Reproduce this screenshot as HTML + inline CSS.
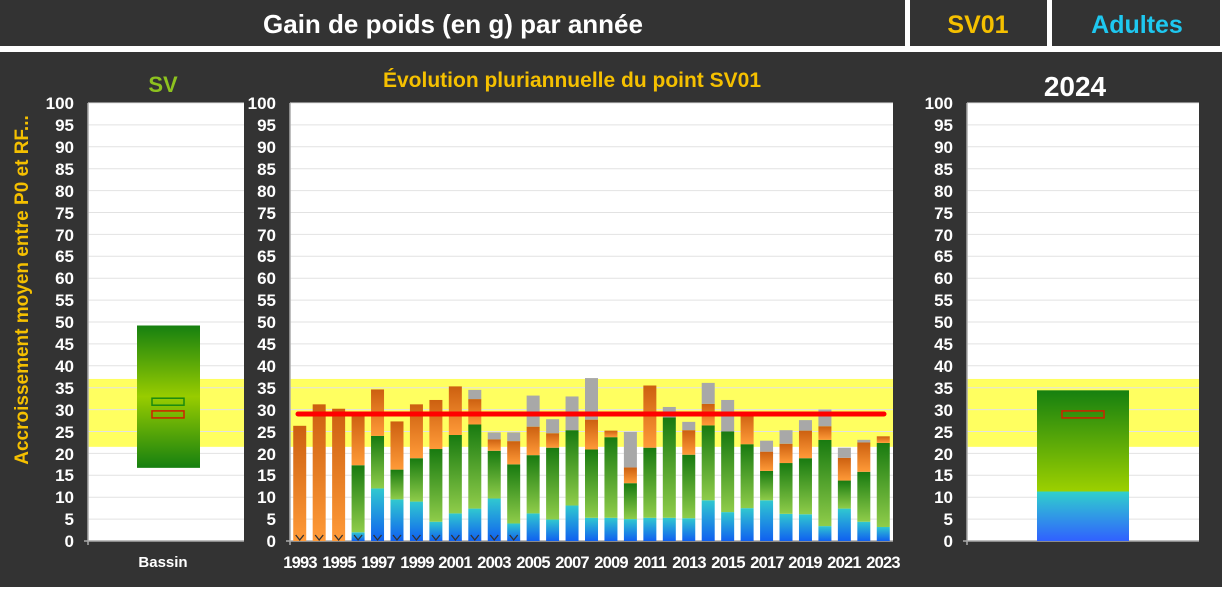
<!DOCTYPE html>
<html><head><meta charset="utf-8"><style>
html,body{margin:0;padding:0;background:#fff;}
body{width:1222px;height:587px;overflow:hidden;}
svg text{font-family:"Liberation Sans",Arial,sans-serif;font-weight:bold;}
</style></head><body>
<svg id="s" width="1222" height="587" viewBox="0 0 1222 587" xmlns="http://www.w3.org/2000/svg">
<defs>
<linearGradient id="gG" x1="0" y1="0" x2="0" y2="1"><stop offset="0" stop-color="#187a10"/><stop offset="1" stop-color="#8fcc4a"/></linearGradient>
<linearGradient id="gO" x1="0" y1="0" x2="0" y2="1"><stop offset="0" stop-color="#cc6010"/><stop offset="1" stop-color="#ff9a38"/></linearGradient>
<linearGradient id="gB" x1="0" y1="0" x2="0" y2="1"><stop offset="0" stop-color="#30c8d0"/><stop offset="1" stop-color="#1060f0"/></linearGradient>
<linearGradient id="gL" x1="0" y1="0" x2="0" y2="1"><stop offset="0" stop-color="#168010"/><stop offset="0.5" stop-color="#98cc00"/><stop offset="1" stop-color="#168010"/></linearGradient>
<linearGradient id="gR" x1="0" y1="0" x2="0" y2="1"><stop offset="0" stop-color="#168010"/><stop offset="1" stop-color="#9cd000"/></linearGradient>
<linearGradient id="gRB" x1="0" y1="0" x2="0" y2="1"><stop offset="0" stop-color="#30d0cc"/><stop offset="1" stop-color="#3060ff"/></linearGradient>
</defs>
<rect x="0" y="0" width="1222" height="587" fill="#ffffff"/>
<rect x="0" y="0" width="1222" height="46" fill="#333"/>
<rect x="905" y="0" width="5" height="46" fill="#fff"/>
<rect x="1047" y="0" width="5" height="46" fill="#fff"/>
<rect x="1220" y="0" width="2" height="46" fill="#fff"/>
<rect x="0" y="52" width="1222" height="535" fill="#333"/>
<text x="453" y="33" fill="#fff" font-size="26" text-anchor="middle">Gain de poids (en g) par année</text>
<text x="978" y="33" fill="#f5c000" font-size="25" text-anchor="middle">SV01</text>
<text x="1137" y="33" fill="#1ec8f0" font-size="25" text-anchor="middle">Adultes</text>
<text x="163" y="92" fill="#8dc21f" font-size="22" text-anchor="middle">SV</text>
<text x="572" y="87" fill="#f5c000" font-size="21" text-anchor="middle">Évolution pluriannuelle du point SV01</text>
<text x="1075" y="96" fill="#fff" font-size="28" text-anchor="middle">2024</text>
<text transform="translate(28,290) rotate(-90)" fill="#f5c000" font-size="19" text-anchor="middle">Accroissement  moyen entre P0 et RF...</text>
<rect x="88" y="103" width="156" height="438" fill="#fff"/>
<rect x="290" y="103" width="603" height="438" fill="#fff"/>
<rect x="967" y="103" width="232" height="438" fill="#fff"/>
<g id="grid"></g>
<g id="bars"></g>
<g fill="#fff" font-size="15">
<text x="163" y="567" text-anchor="middle">Bassin</text>
</g>
<g fill="#fff" font-size="17" text-anchor="end">
<text x="74" y="109">100</text><text x="74" y="131">95</text><text x="74" y="153">90</text><text x="74" y="175">85</text><text x="74" y="197">80</text><text x="74" y="219">75</text><text x="74" y="241">70</text><text x="74" y="262">65</text><text x="74" y="284">60</text><text x="74" y="306">55</text><text x="74" y="328">50</text><text x="74" y="350">45</text><text x="74" y="372">40</text><text x="74" y="394">35</text><text x="74" y="416">30</text><text x="74" y="438">25</text><text x="74" y="460">20</text><text x="74" y="481">15</text><text x="74" y="503">10</text><text x="74" y="525">5</text><text x="74" y="547">0</text>
<text x="276" y="109">100</text><text x="276" y="131">95</text><text x="276" y="153">90</text><text x="276" y="175">85</text><text x="276" y="197">80</text><text x="276" y="219">75</text><text x="276" y="241">70</text><text x="276" y="262">65</text><text x="276" y="284">60</text><text x="276" y="306">55</text><text x="276" y="328">50</text><text x="276" y="350">45</text><text x="276" y="372">40</text><text x="276" y="394">35</text><text x="276" y="416">30</text><text x="276" y="438">25</text><text x="276" y="460">20</text><text x="276" y="481">15</text><text x="276" y="503">10</text><text x="276" y="525">5</text><text x="276" y="547">0</text>
<text x="953" y="109">100</text><text x="953" y="131">95</text><text x="953" y="153">90</text><text x="953" y="175">85</text><text x="953" y="197">80</text><text x="953" y="219">75</text><text x="953" y="241">70</text><text x="953" y="262">65</text><text x="953" y="284">60</text><text x="953" y="306">55</text><text x="953" y="328">50</text><text x="953" y="350">45</text><text x="953" y="372">40</text><text x="953" y="394">35</text><text x="953" y="416">30</text><text x="953" y="438">25</text><text x="953" y="460">20</text><text x="953" y="481">15</text><text x="953" y="503">10</text><text x="953" y="525">5</text><text x="953" y="547">0</text>
</g>
<g fill="#fff" font-size="16.5" text-anchor="middle" letter-spacing="-0.8">
<text x="300" y="568">1993</text><text x="339" y="568">1995</text><text x="378" y="568">1997</text><text x="417" y="568">1999</text><text x="455" y="568">2001</text><text x="494" y="568">2003</text><text x="533" y="568">2005</text><text x="572" y="568">2007</text><text x="611" y="568">2009</text><text x="650" y="568">2011</text><text x="689" y="568">2013</text><text x="728" y="568">2015</text><text x="767" y="568">2017</text><text x="805" y="568">2019</text><text x="844" y="568">2021</text><text x="883" y="568">2023</text>
</g>
</svg>
<script>
var s=document.getElementById('s');
function Y(v){return 541-4.38*v;}
function el(t,a,p){var e=document.createElementNS('http://www.w3.org/2000/svg',t);for(var k in a)e.setAttribute(k,a[k]);(p||s).appendChild(e);return e;}
var G=document.getElementById('grid'),B=document.getElementById('bars');
[[88,244],[290,893],[967,1199]].forEach(function(p){
 el('rect',{x:p[0],y:Y(37),width:p[1]-p[0],height:Y(21.5)-Y(37),fill:'#ffff60'},G);
 for(var v=5;v<=100;v+=5){el('line',{x1:p[0],x2:p[1],y1:Y(v),y2:Y(v),stroke:'#e2e2e2','stroke-width':1},G);}
 el('line',{x1:p[0],x2:p[0],y1:103,y2:545,stroke:'#aaa','stroke-width':1.5},G);
 el('line',{x1:p[0]-4,x2:p[1],y1:541,y2:541,stroke:'#aaa','stroke-width':1.5},G);
});
var d=[[0,0,26.3,0],[0,0,31.2,0],[0,0,30.2,0],[2,17.3,29,0],[12,24,34.6,0],[9.5,16.3,27.3,0],[9,18.9,31.2,0],[4.4,21,32.2,0],[6.3,24.2,35.3,0],[7.4,26.6,32.4,34.5],[9.7,20.6,23.2,24.8],[4,17.5,22.8,24.8],[6.3,19.6,26.1,33.2],[4.9,21.3,24.6,27.8],[8.1,25.3,25.3,33],[5.3,20.9,27.7,37.2],[5.3,23.7,25.2,0],[5,13.2,16.8,24.9],[5.3,21.3,35.5,0],[5.3,28.2,28.2,30.6],[5.2,19.7,25.3,27.2],[9.3,26.4,31.3,36.1],[6.6,25,25,32.2],[7.5,22.1,29.3,0],[9.3,16,20.4,22.9],[6.2,17.8,22.2,25.3],[6.1,18.9,25.2,27.6],[3.4,23.1,26.2,30],[7.4,13.8,19,21.3],[4.4,15.8,22.5,23.1],[3.2,22.4,23.9,0]];
var sw=603/31;
d.forEach(function(r,i){
 var x=290+sw*(i+0.5)-6.5,w=13,prev=0;
 var fills=['url(#gB)','url(#gG)','url(#gO)','#a8a8a8'];
 for(var k=0;k<4;k++){var v=r[k];if(v>prev){el('rect',{x:x,y:Y(v),width:w,height:Y(prev)-Y(v),fill:fills[k]},B);prev=v;}}
 if(i<12){var cx=x+6.5;el('path',{d:'M'+(cx-4)+' 535 L'+cx+' 540 L'+(cx+4)+' 535',stroke:'#333',fill:'none','stroke-width':1.3},B);}
});
el('line',{x1:298,x2:884,y1:Y(29),y2:Y(29),stroke:'#ff0000','stroke-width':5,'stroke-linecap':'round'},B);
el('rect',{x:137,y:Y(49.2),width:63,height:Y(16.7)-Y(49.2),fill:'url(#gL)'},B);
el('rect',{x:152,y:Y(32.6),width:32,height:Y(31)-Y(32.6),fill:'none',stroke:'#1a8a10','stroke-width':1.5},B);
el('rect',{x:152,y:Y(29.7),width:32,height:Y(28.1)-Y(29.7),fill:'none',stroke:'#d02000','stroke-width':1.5},B);
el('rect',{x:1037,y:Y(34.4),width:92,height:Y(11.3)-Y(34.4),fill:'url(#gR)'},B);
el('rect',{x:1037,y:Y(11.3),width:92,height:Y(0)-Y(11.3),fill:'url(#gRB)'},B);
el('rect',{x:1062,y:Y(29.7),width:42,height:Y(28.1)-Y(29.7),fill:'none',stroke:'#d02000','stroke-width':1.5},B);
</script>
</body></html>
